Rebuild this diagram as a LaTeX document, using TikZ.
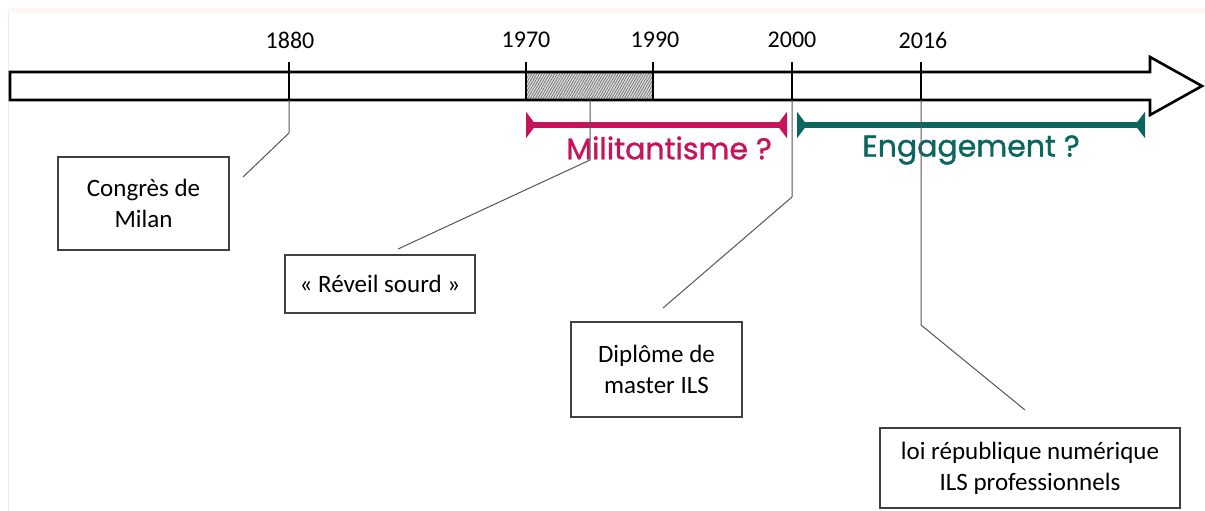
\documentclass[tikz,border=0pt]{standalone}
\usepackage{fontspec}
\setmainfont{Carlito}
\newfontfamily\poppins[FakeBold=1.2]{Poppins}
\usetikzlibrary{arrows.meta,patterns.meta}
\definecolor{milcol}{HTML}{C6135B}
\definecolor{engcol}{HTML}{0C6660}
\definecolor{linegray}{HTML}{555555}
\begin{document}
\begin{tikzpicture}[x=1pt,y=-1pt,
  tickline/.style={line width=2.2pt,black},
  yearlbl/.style={font=\fontsize{24}{28}\selectfont,inner sep=0pt},
  conn/.style={line width=1pt,linegray},
  evbox/.style={draw=black!75,line width=1.2pt,align=center,inner sep=0pt,font=\fontsize{25}{31}\selectfont},
  period/.style={line width=5.5pt,{Triangle[reversed,length=10pt,width=26pt]}-{Triangle[reversed,length=10pt,width=26pt]}},
  periodlbl/.style={font=\poppins\fontsize{30}{34}\selectfont,inner sep=0pt}]
\useasboundingbox (0,0) rectangle (1205,511);
\fill[white] (0,0) rectangle (1205,511);
\fill[red!4] (8,8) rectangle (1205,13);
\draw[black!8,line width=1pt] (8,13) -- (8,511);
% hatched period
\fill[gray!30] (526,72) rectangle (653,100);
\fill[pattern={Lines[angle=60,distance=2.2pt,line width=0.6pt]},pattern color=gray!80!black] (526,72) rectangle (653,100);
% timeline arrow
\draw[line width=2.6pt,line join=miter] (10,72) -- (1150,72) -- (1150,57) -- (1202,86) -- (1150,115) -- (1150,100) -- (10,100) -- cycle;
% ticks and years
\foreach \nm/\xx in {a/289,b/526,c/653,d/792,e/921}{
  \coordinate (top\nm) at (\xx,62);
  \coordinate (bot\nm) at (\xx,100);
  \draw[tickline] (top\nm) -- (bot\nm);
}
\node[yearlbl] (y1880) at (290,40) {1880};
\node[yearlbl] (y1970) at (526,40) {1970};
\node[yearlbl] (y1990) at (655,40) {1990};
\node[yearlbl] (y2000) at (792,40) {2000};
\node[yearlbl] (y2016) at (923,40) {2016};
% periods
\coordinate (mil0) at (526,125);
\coordinate (mil1) at (787,125);
\coordinate (eng0) at (797,125);
\coordinate (eng1) at (1145,125);
\draw[period,milcol] (mil0) -- (mil1);
\draw[period,engcol] (eng0) -- (eng1);
\node[periodlbl,text=milcol] (mil) at (669,148) {Militantisme ?};
\node[periodlbl,text=engcol] (eng) at (971,150) {Engagement ?};
% event boxes
\node[evbox,minimum width=171pt,minimum height=93pt] (milan) at (143.5,203.5) {Congrès de\\Milan};
\node[evbox,minimum width=190pt,minimum height=58pt] (reveil) at (380,284) {« Réveil sourd »};
\node[evbox,minimum width=171pt,minimum height=95pt] (master) at (656.5,369.5) {Diplôme de\\master ILS};
\node[evbox,minimum width=300pt,minimum height=80pt] (loi) at (1030,468) {loi république numérique\\ILS professionnels};
% connectors
\coordinate (c1a) at (289,133);
\coordinate (c1b) at (243,177);
\coordinate (c2s) at (590,100);
\coordinate (c2a) at (590,160);
\coordinate (c2b) at (398,249);
\coordinate (c3a) at (792,197);
\coordinate (c3b) at (663,308);
\coordinate (c4a) at (921,325);
\coordinate (c4b) at (1025,410);
\draw[conn] (bota) -- (c1a) -- (c1b);
\draw[conn] (c2s) -- (c2a) -- (c2b);
\draw[conn] (botd) -- (c3a) -- (c3b);
\draw[conn] (bote) -- (c4a) -- (c4b);
\end{tikzpicture}
\end{document}
